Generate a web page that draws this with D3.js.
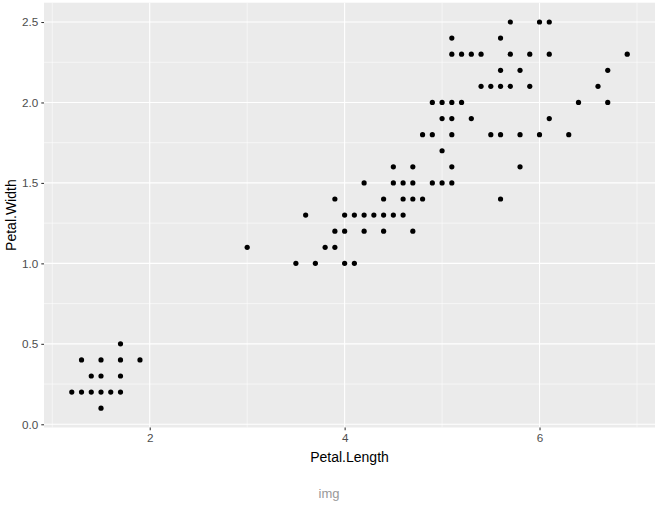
<!DOCTYPE html>
<html><head><meta charset="utf-8">
<script src="https://cdn.jsdelivr.net/npm/d3@7"></script>
<style>
html,body{margin:0;padding:0;background:#fff;}
svg{display:block;font-family:"Liberation Sans",Arial,sans-serif;}
</style></head>
<body>
<svg id="chart" width="662" height="507"></svg>
<script>
// Data (Petal.Length, Petal.Width)
const petalLength = [
  1.2,1.3,1.4,1.5,1.6,1.7, 1.5, 1.4,1.5,1.7, 1.3,1.5,1.7,1.9, 1.7,
  3.5,3.7,4.0,4.1,
  3.0,3.8,3.9,
  3.9,4.0,4.2,4.4,4.7,
  3.6,4.0,4.1,4.2,4.3,4.4,4.5,4.6,
  3.9,4.4,4.6,4.7,4.8,5.6,
  4.2,4.5,4.6,4.7,4.9,5.0,5.1,
  4.5,4.7,5.1,5.8,
  5.0,
  4.8,4.9,5.1,5.5,5.6,5.8,6.0,6.3,
  5.0,5.1,5.3,6.1,
  4.9,5.0,5.1,5.2,6.4,6.7,
  5.4,5.5,5.6,5.7,5.9,6.6,
  5.6,5.8,6.7,
  5.1,5.2,5.3,5.4,5.7,5.9,6.1,6.9,
  5.1,5.6,
  5.7,6.0,6.1
];
const petalWidth = [
  0.2,0.2,0.2,0.2,0.2,0.2, 0.1, 0.3,0.3,0.3, 0.4,0.4,0.4,0.4, 0.5,
  1.0,1.0,1.0,1.0,
  1.1,1.1,1.1,
  1.2,1.2,1.2,1.2,1.2,
  1.3,1.3,1.3,1.3,1.3,1.3,1.3,1.3,
  1.4,1.4,1.4,1.4,1.4,1.4,
  1.5,1.5,1.5,1.5,1.5,1.5,1.5,
  1.6,1.6,1.6,1.6,
  1.7,
  1.8,1.8,1.8,1.8,1.8,1.8,1.8,1.8,
  1.9,1.9,1.9,1.9,
  2.0,2.0,2.0,2.0,2.0,2.0,
  2.1,2.1,2.1,2.1,2.1,2.1,
  2.2,2.2,2.2,
  2.3,2.3,2.3,2.3,2.3,2.3,2.3,2.3,
  2.4,2.4,
  2.5,2.5,2.5
];
const xTicks = [2, 4, 6];
const xMinor = [1, 3, 5, 7];
const yTicks = [0.0, 0.5, 1.0, 1.5, 2.0, 2.5];
const yMinor = [0.25, 0.75, 1.25, 1.75, 2.25];

const points = petalLength.map((v, i) => ({x: v, y: petalWidth[i]}));

const svg = d3.select("#chart");
const panel = {left: 44, right: 655, top: 2.7, bottom: 427.5};

const xMin = d3.min(petalLength), xMax = d3.max(petalLength);
const yMin = d3.min(petalWidth), yMax = d3.max(petalWidth);
const xPad = (xMax - xMin) * 0.05, yPad = (yMax - yMin) * 0.05;

const x = d3.scaleLinear().domain([xMin - xPad, xMax + xPad]).range([panel.left, panel.right]);
const y = d3.scaleLinear().domain([yMin - yPad, yMax + yPad]).range([panel.bottom, panel.top]);

// panel background
svg.append("rect")
  .attr("x", panel.left).attr("y", panel.top)
  .attr("width", panel.right - panel.left).attr("height", panel.bottom - panel.top)
  .attr("fill", "#EBEBEB");

const grid = svg.append("g");
// minor grid
grid.selectAll(".vminor").data(xMinor.filter(d => x(d) > panel.left && x(d) < panel.right)).enter().append("line")
  .attr("x1", d => x(d)).attr("x2", d => x(d)).attr("y1", panel.top).attr("y2", panel.bottom)
  .attr("stroke", "#fff").attr("stroke-width", 0.55);
grid.selectAll(".hminor").data(yMinor).enter().append("line")
  .attr("y1", d => y(d)).attr("y2", d => y(d)).attr("x1", panel.left).attr("x2", panel.right)
  .attr("stroke", "#fff").attr("stroke-width", 0.55);
// major grid
grid.selectAll(".vmajor").data(xTicks).enter().append("line")
  .attr("x1", d => x(d)).attr("x2", d => x(d)).attr("y1", panel.top).attr("y2", panel.bottom)
  .attr("stroke", "#fff").attr("stroke-width", 1.1);
grid.selectAll(".hmajor").data(yTicks).enter().append("line")
  .attr("y1", d => y(d)).attr("y2", d => y(d)).attr("x1", panel.left).attr("x2", panel.right)
  .attr("stroke", "#fff").attr("stroke-width", 1.1);

// points
svg.append("g").selectAll("circle").data(points).enter().append("circle")
  .attr("cx", d => x(d.x)).attr("cy", d => y(d.y)).attr("r", 2.6)
  .attr("fill", "#000");

// axes
const xAxis = d3.axisBottom(x).tickValues(xTicks).tickFormat(d3.format("d")).tickSize(2.7).tickPadding(3);
const gx = svg.append("g").attr("transform", `translate(0,${panel.bottom})`).call(xAxis);
gx.select(".domain").remove();
gx.selectAll(".tick line").attr("stroke", "#333333").attr("stroke-width", 1.07);
gx.selectAll(".tick text").attr("fill", "#4D4D4D").style("font-size", "11.7px")
  .style("font-family", "'Liberation Sans', Arial, sans-serif");

const yAxis = d3.axisLeft(y).tickValues(yTicks).tickFormat(d3.format(".1f")).tickSize(2.7).tickPadding(3);
const gy = svg.append("g").attr("transform", `translate(${panel.left},0)`).call(yAxis);
gy.select(".domain").remove();
gy.selectAll(".tick line").attr("stroke", "#333333").attr("stroke-width", 1.07);
gy.selectAll(".tick text").attr("fill", "#4D4D4D").style("font-size", "11.7px")
  .style("font-family", "'Liberation Sans', Arial, sans-serif");

// axis titles
svg.append("text")
  .attr("x", (panel.left + panel.right) / 2).attr("y", 461.5)
  .attr("text-anchor", "middle").attr("fill", "#000").style("font-size", "14px")
  .text("Petal.Length");
svg.append("text")
  .attr("transform", `translate(15.5,${(panel.top + panel.bottom) / 2}) rotate(-90)`)
  .attr("text-anchor", "middle").attr("fill", "#000").style("font-size", "14px")
  .text("Petal.Width");

// caption
svg.append("text")
  .attr("x", 329).attr("y", 497.5)
  .attr("text-anchor", "middle").attr("fill", "#999999").style("font-size", "13px")
  .text("img");
</script>
</body></html>
